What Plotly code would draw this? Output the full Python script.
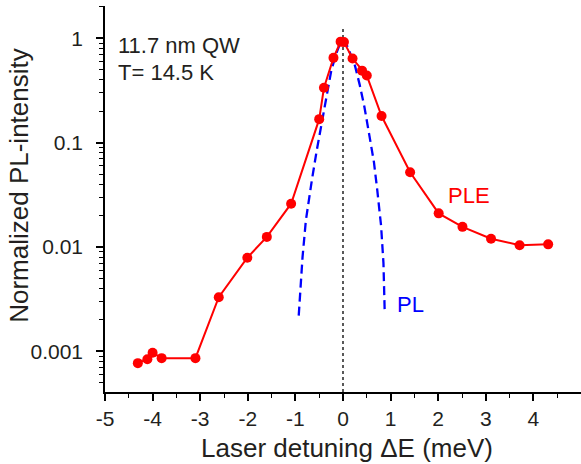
import math
import plotly.graph_objects as go

# PLE data (red markers + line)
ple_x = [-4.31, -4.11, -4.00, -3.81, -3.10, -2.61, -2.01, -1.60, -1.09, -0.50, -0.40,
         -0.20, -0.05, 0.02, 0.20, 0.40, 0.50, 0.81, 1.41, 2.01, 2.51, 3.11, 3.71, 4.31]
ple_y = [0.00077, 0.00084, 0.00097, 0.00086, 0.00086, 0.0033, 0.0079, 0.0125, 0.026,
         0.168, 0.336, 0.65, 0.93, 0.92, 0.64, 0.49, 0.44, 0.18, 0.052, 0.021, 0.0156,
         0.012, 0.0104, 0.0106]

# PL spectrum (blue dashed)
pl_x = [-0.93, -0.85, -0.78, -0.72, -0.65, -0.55, -0.45, -0.35, -0.25, -0.15, -0.05,
        0.0, 0.05, 0.15, 0.25, 0.35, 0.45, 0.55, 0.65, 0.72, 0.80, 0.85, 0.875]
pl_y = [0.0022, 0.008, 0.018, 0.028, 0.045, 0.085, 0.15, 0.28, 0.48, 0.70, 0.92,
        0.96, 0.93, 0.72, 0.55, 0.36, 0.22, 0.12, 0.065, 0.035, 0.016, 0.007, 0.0025]

# zero-detuning marker line
zero_x = [0, 0]
zero_y = [1.23, 0.0004]

x_ticks = [-5, -4, -3, -2, -1, 0, 1, 2, 3, 4]
x_ticktext = ["-5", "-4", "-3", "-2", "-1", "0", "1", "2", "3", "4"]
y_ticks = [0.001, 0.01, 0.1, 1]
y_ticktext = ["0.001", "0.01", "0.1", "1"]
y_minor = [m * 10.0 ** e for e in range(-4, 1) for m in range(2, 10)]

FONT = "Liberation Sans, Arial, sans-serif"
TXT = "#231f20"

fig = go.Figure()
fig.add_trace(go.Scatter(x=zero_x, y=zero_y, mode="lines",
                         line=dict(color="black", width=1.3, dash="3px,3px"),
                         hoverinfo="skip"))
fig.add_trace(go.Scatter(x=pl_x, y=pl_y, mode="lines",
                         line=dict(color="#0000ff", width=2.3, dash="9px,5px")))
fig.add_trace(go.Scatter(x=ple_x, y=ple_y, mode="lines+markers",
                         line=dict(color="#ff0000", width=2),
                         marker=dict(color="#ff0000", size=10)))

fig.update_layout(
    width=581, height=464,
    margin=dict(l=105, r=0, t=6, b=72),
    paper_bgcolor="white", plot_bgcolor="white",
    showlegend=False,
    font=dict(family=FONT, color=TXT),
    xaxis=dict(range=[-5, 5], tickvals=x_ticks, ticktext=x_ticktext, ticks="outside",
               ticklen=7, tickwidth=1.5, tickcolor="black", showline=True,
               linecolor="black", linewidth=1.5, showgrid=False, zeroline=False,
               tickfont=dict(size=21, family=FONT, color=TXT),
               minor=dict(dtick=0.5, ticks="outside", ticklen=4, tickwidth=1.2,
                          tickcolor="black", showgrid=False)),
    yaxis=dict(type="log", range=[-3.39, 0.31], tickvals=y_ticks, ticktext=y_ticktext,
               ticks="outside", ticklen=7, tickwidth=1.5, tickcolor="black",
               showline=True, linecolor="black", linewidth=1.5, showgrid=False,
               zeroline=False, ticklabelstandoff=9,
               tickfont=dict(size=21, family=FONT, color=TXT),
               minor=dict(tickvals=y_minor, ticks="outside", ticklen=4, tickwidth=1.2,
                          tickcolor="black", showgrid=False)),
)

annos = [
    dict(text="11.7 nm QW", x=-4.77, y=math.log10(0.85), xref="x", yref="y",
         xanchor="left", yanchor="middle", font=dict(size=22, color=TXT)),
    dict(text="T= 14.5 K", x=-4.77, y=math.log10(0.47), xref="x", yref="y",
         xanchor="left", yanchor="middle", font=dict(size=22, color=TXT)),
    dict(text="PLE", x=2.16, y=math.log10(0.0314), xref="x", yref="y",
         xanchor="left", yanchor="middle", font=dict(size=22, color="#ff0000")),
    dict(text="PL", x=1.09, y=math.log10(0.00282), xref="x", yref="y",
         xanchor="left", yanchor="middle", font=dict(size=22, color="#0000ff")),
    dict(text="Laser detuning \u0394E (meV)", x=0.508, y=-0.145, xref="paper",
         yref="paper", xanchor="center", yanchor="middle", showarrow=False,
         font=dict(size=26, color=TXT)),
    dict(text="Normalized PL-intensity", x=-0.18, y=0.535, xref="paper",
         yref="paper", xanchor="center", yanchor="middle", textangle=-90,
         showarrow=False, font=dict(size=26, color=TXT)),
]
for a in annos:
    a.setdefault("showarrow", False)
    fig.add_annotation(**a)

fig.write_html("out.html", config={"displayModeBar": False},
               post_script="document.body.style.margin='0';document.body.style.overflow='hidden';")
